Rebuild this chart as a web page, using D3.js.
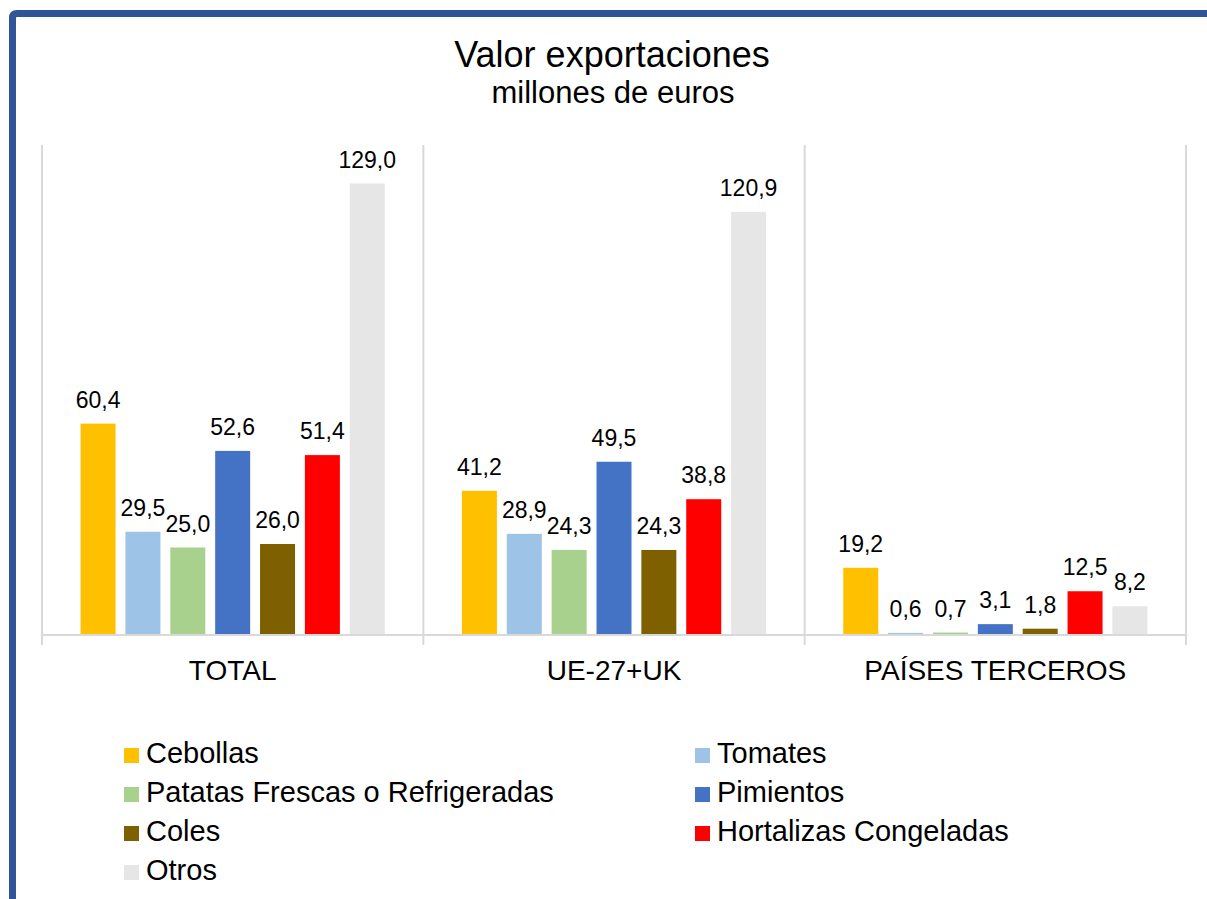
<!DOCTYPE html>
<html>
<head>
<meta charset="utf-8">
<script src="https://cdn.jsdelivr.net/npm/d3@7"></script>
<style>
  html, body { margin: 0; padding: 0; background: #fff; }
  svg { display: block; font-family: "Liberation Sans", Arial, sans-serif; }
</style>
</head>
<body>
<svg id="chart" width="1207" height="899"></svg>
<script>
// Chart data
const groups = ["TOTAL", "UE-27+UK", "PAÍSES TERCEROS"];
const series = ["Cebollas", "Tomates", "Patatas Frescas o Refrigeradas", "Pimientos", "Coles", "Hortalizas Congeladas", "Otros"];
const colors = ["#FFC000", "#9DC3E6", "#A9D18E", "#4472C4", "#7F6000", "#FF0000", "#E7E6E6"];
const valTotal = [60.4, 29.5, 25.0, 52.6, 26.0, 51.4, 129.0];
const valUE = [41.2, 28.9, 24.3, 49.5, 24.3, 38.8, 120.9];
const valTerceros = [19.2, 0.6, 0.7, 3.1, 1.8, 12.5, 8.2];
const yMax = 140;

const values = [valTotal, valUE, valTerceros];
const svg = d3.select("#chart");

// Frame (blue border, top + left)
svg.append("path")
  .attr("d", "M12.5,899 L12.5,18 Q12.5,13.5 17,13.5 L1207,13.5")
  .attr("fill", "none")
  .attr("stroke", "#2F5597")
  .attr("stroke-width", 7);

// Titles
svg.append("text").attr("x", 612).attr("y", 67)
  .attr("text-anchor", "middle").attr("font-size", 36).attr("fill", "#000")
  .text("Valor exportaciones");
svg.append("text").attr("x", 613).attr("y", 103)
  .attr("text-anchor", "middle").attr("font-size", 31).attr("fill", "#000")
  .text("millones de euros");

const plot = { left: 42, right: 1186, top: 145, bottom: 635 };

const x0 = d3.scaleBand().domain(groups).range([plot.left, plot.right]).padding(0);
const x1 = d3.scaleBand().domain(series).range([0, x0.bandwidth()])
  .paddingInner(0.22).paddingOuter(0.86);
const y = d3.scaleLinear().domain([0, yMax]).range([plot.bottom, plot.top]);

// Vertical separators between categories
const seps = [plot.left, ...groups.map(g => x0(g) + x0.bandwidth())];
svg.append("g").selectAll("line").data(seps).join("line")
  .attr("x1", d => d).attr("x2", d => d)
  .attr("y1", plot.top).attr("y2", plot.bottom + 10)
  .attr("stroke", "#D9D9D9").attr("stroke-width", 2);

// Bars
const gGroups = svg.append("g").selectAll("g").data(groups).join("g")
  .attr("transform", g => `translate(${x0(g)},0)`);

gGroups.selectAll("rect")
  .data((g, gi) => series.map((s, si) => ({ s, si, v: values[gi][si] })))
  .join("rect")
  .attr("x", d => x1(d.s))
  .attr("width", x1.bandwidth())
  .attr("y", d => y(d.v))
  .attr("height", d => y(0) - y(d.v))
  .attr("fill", d => colors[d.si]);

// Value labels
gGroups.selectAll("text.val")
  .data((g, gi) => series.map((s, si) => ({ s, si, v: values[gi][si] })))
  .join("text")
  .attr("class", "val")
  .attr("x", d => x1(d.s) + x1.bandwidth() / 2)
  .attr("y", d => y(d.v) - 16)
  .attr("text-anchor", "middle")
  .attr("font-size", 23)
  .attr("fill", "#000")
  .text(d => d3.format(".1f")(d.v).replace(".", ","));

// Baseline
svg.append("line")
  .attr("x1", plot.left).attr("x2", plot.right)
  .attr("y1", plot.bottom).attr("y2", plot.bottom)
  .attr("stroke", "#D9D9D9").attr("stroke-width", 2);

// Category labels
const xAxis = d3.axisBottom(x0).tickSize(0).tickPadding(24);
const axG = svg.append("g").attr("transform", `translate(0,${plot.bottom})`).call(xAxis);
axG.select(".domain").remove();
axG.selectAll("text").attr("font-size", 28).attr("fill", "#000")
  .attr("font-family", "Liberation Sans, Arial, sans-serif")
  .attr("dy", null).attr("y", 45);

// Legend
const legCols = [124, 695];
const legRows = [763, 802, 841, 880];
const leg = svg.append("g").selectAll("g").data(series).join("g")
  .attr("transform", (d, i) => `translate(${legCols[i % 2]},${legRows[Math.floor(i / 2)]})`);
leg.append("rect").attr("x", 0).attr("y", -15).attr("width", 15).attr("height", 15)
  .attr("fill", (d, i) => colors[i]);
leg.append("text").attr("x", 22).attr("y", 0)
  .attr("font-size", 29).attr("fill", "#000")
  .text(d => d);
</script>
</body>
</html>
